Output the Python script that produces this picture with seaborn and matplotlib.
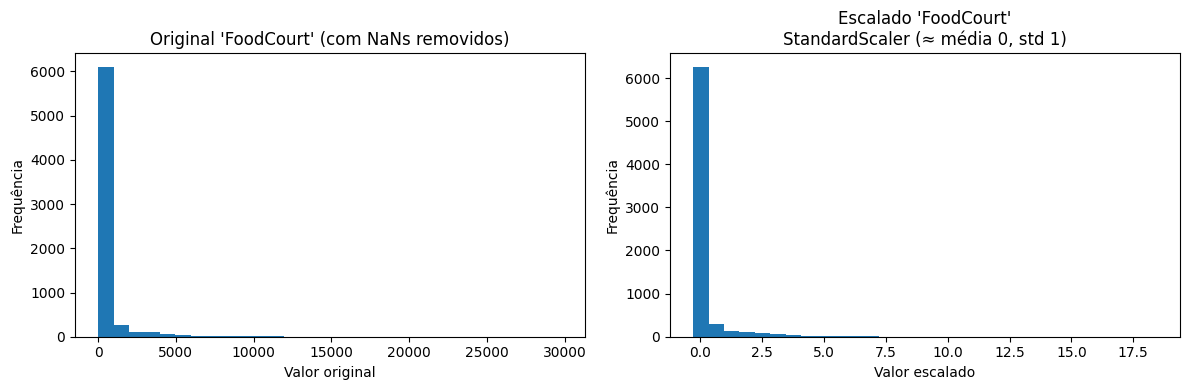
import numpy as np
import pandas as pd
import matplotlib
matplotlib.use("Agg")
import matplotlib.pyplot as plt
import seaborn as sns

# Original FoodCourt histogram (30 bins, 0 .. 29813)
orig_min, orig_max = 0.0, 29813.0
orig_counts = [6110, 270, 113, 112, 68, 45, 26, 24, 22, 20, 18, 17,
               3, 2, 2, 1, 1, 1, 1, 0, 1, 0, 0, 0, 0, 0, 0, 0, 0, 1]

# Scaled FoodCourt histogram (30 bins, -0.29 .. 18.45)
scaled_min, scaled_max = -0.29, 18.45
scaled_counts = [6264, 285, 123, 121, 76, 53, 30, 28, 25, 22, 20, 19,
                 3, 2, 2, 1, 1, 1, 1, 0, 1, 0, 0, 0, 0, 0, 0, 0, 0, 1]

titles = ["Original 'FoodCourt' (com NaNs removidos)",
          "Escalado 'FoodCourt'\nStandardScaler (≈ média 0, std 1)"]
xlabels = ["Valor original", "Valor escalado"]
ylabel = "Frequência"

fig, axes = plt.subplots(1, 2, figsize=(12, 4), dpi=100)

for ax, (lo, hi, counts), title, xl in zip(
        axes,
        [(orig_min, orig_max, orig_counts), (scaled_min, scaled_max, scaled_counts)],
        titles, xlabels):
    n = len(counts)
    edges = np.linspace(lo, hi, n + 1)
    df = pd.DataFrame({"v": (edges[:-1] + edges[1:]) / 2, "w": counts})
    sns.histplot(data=df, x="v", weights="w", bins=n, binrange=(lo, hi), ax=ax,
                 color="#1f77b4", alpha=1.0, edgecolor="none", linewidth=0)
    ax.set_title(title)
    ax.set_xlabel(xl)
    ax.set_ylabel(ylabel)

plt.tight_layout()
fig.savefig("out.png", dpi=100, bbox_inches="tight", pad_inches=0.1)
